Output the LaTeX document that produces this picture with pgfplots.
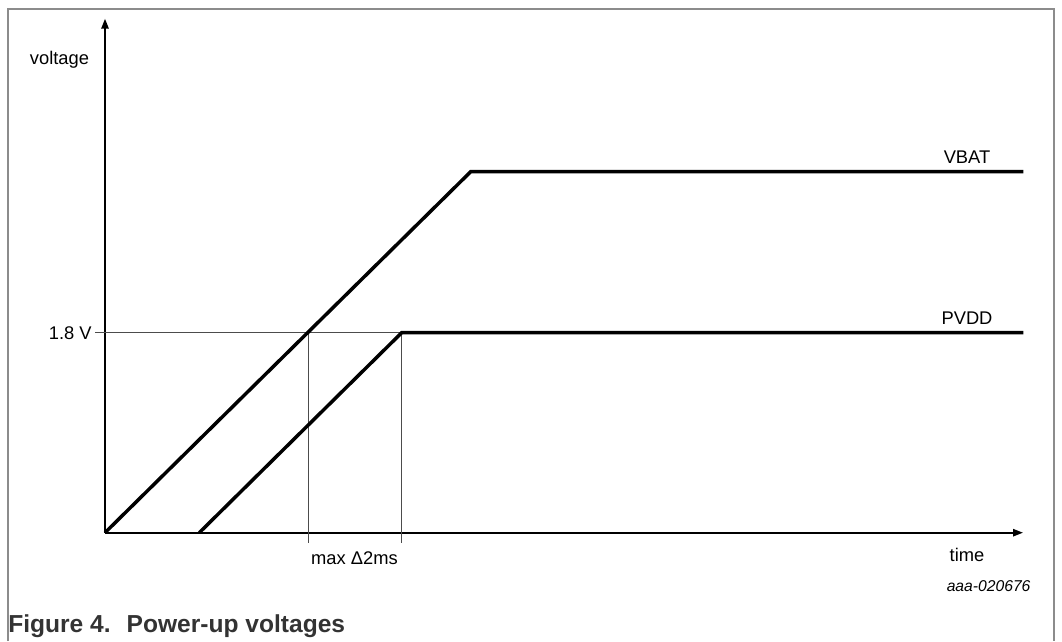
\documentclass[border=0pt]{standalone}
\usepackage{pgfplots}
\pgfplotsset{compat=1.18}
\usepackage{fontspec}
\setmainfont{Liberation Sans}
\usetikzlibrary{arrows.meta}
\definecolor{capgray}{HTML}{333333}
\definecolor{framegray}{HTML}{8C8C8C}
\begin{document}
\begin{tikzpicture}[x=0.75bp,y=0.75bp]
\useasboundingbox (0,0) rectangle (1062,641);
\draw[color=framegray, line width=1.1bp] (8,0) -- (8,632) -- (1054,632) -- (1054,0);
\begin{axis}[at={(105,108.3)}, anchor=south west,
  scale only axis, width=688.5bp, height=385.5bp,
  xmin=0, xmax=918, ymin=0, ymax=514,
  axis lines=left,
  axis line style={line width=1.3bp, -{Triangle[length=7.5bp,width=5.5bp]}},
  xtick=\empty, ytick=\empty, clip=false,
  font=\fontsize{13.8}{16}\selectfont]
\addplot[black!70, line width=0.8bp] coordinates {(-10,200) (296.7,200)};
\addplot[black!70, line width=0.8bp] coordinates {(203.3,200) (203.3,-10)};
\addplot[black!70, line width=0.8bp] coordinates {(296.7,200) (296.7,-10)};
\addplot[black, line width=2.6bp] coordinates {(0,0) (365.7,361) (918.3,361)};
\addplot[black, line width=2.6bp] coordinates {(94.3,0) (296.7,200) (918.3,200)};
\node at (axis cs:-45.5,472.7) {voltage};
\node[anchor=east, inner sep=0pt] at (axis cs:-13,200) {1.8 V};
\node at (axis cs:862,376) {VBAT};
\node at (axis cs:862,215) {PVDD};
\node at (axis cs:862,-22.3) {time};
\node at (axis cs:249.5,-25.3) {max \symbol{"0394}2ms};
\node[anchor=east, inner sep=0pt, font=\fontsize{11.8}{14}\selectfont\itshape] at (axis cs:925.7,-53.3) {aaa-020676};
\end{axis}
\node[anchor=base west, inner sep=0pt, text=capgray, font=\fontsize{18.5}{21}\selectfont\bfseries] at (8,9) {Figure 4.\hspace{0.65em}Power-up voltages};
\end{tikzpicture}
\end{document}
